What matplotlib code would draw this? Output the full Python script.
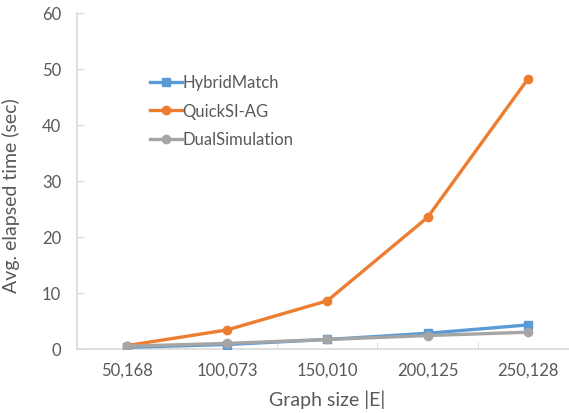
import matplotlib.pyplot as plt

plt.rcParams['font.family'] = ['Lato', 'DejaVu Sans']

sizes = ['50,168', '100,073', '150,010', '200,125', '250,128']
hybrid = [0.3, 0.8, 1.7, 2.8, 4.3]
quicksi = [0.6, 3.4, 8.6, 23.5, 48.2]
dualsim = [0.5, 1.0, 1.7, 2.4, 3.0]

text_col = '#595959'
axis_col = '#d9d9d9'

fig = plt.figure(figsize=(5.69, 4.14), dpi=100)
# plot area runs past the right edge of the canvas
ax = fig.add_axes([76.5 / 569, 64 / 414, 501.5 / 569, 336 / 414])

x = range(len(sizes))
ax.plot(x, hybrid, color='#5B9BD5', lw=2.4, marker='s', ms=6, label='HybridMatch', zorder=3)
ax.plot(x, quicksi, color='#ED7D31', lw=2.4, marker='o', ms=6, label='QuickSI-AG', zorder=3)
ax.plot(x, dualsim, color='#A5A5A5', lw=2.4, marker='o', ms=6, label='DualSimulation', zorder=4)

ax.set_xlim(-0.5, len(sizes) - 0.5)
ax.set_ylim(0, 60)
ax.set_yticks(range(0, 61, 10))
ax.set_xticks(list(x))
ax.set_xticklabels(sizes)
ax.set_xticks([i + 0.5 for i in range(len(sizes) - 1)], minor=True)

for side in ['top', 'right']:
    ax.spines[side].set_visible(False)
for side in ['left', 'bottom']:
    ax.spines[side].set_color(axis_col)
    ax.spines[side].set_linewidth(1.2)

ax.tick_params(axis='y', direction='in', length=5, color=axis_col, labelsize=12,
               labelcolor=text_col, pad=11)
ax.tick_params(axis='x', which='major', length=0, labelsize=12, labelcolor=text_col, pad=9)
ax.tick_params(axis='x', which='minor', direction='in', length=5, color=axis_col)

ax.set_ylabel('Avg. elapsed time (sec)', fontsize=14, color=text_col)
ax.yaxis.set_label_coords(-0.112, 0.46)
ax.set_xlabel('Graph size |E|', fontsize=14, color=text_col)
ax.xaxis.set_label_coords(0.5, -0.122)

ax.legend(loc='upper left', bbox_to_anchor=(0.117, 0.862), frameon=False, fontsize=12,
          labelcolor=text_col, handlelength=1.9, handletextpad=0.05, labelspacing=0.75)

fig.savefig('out.png', dpi=100)
